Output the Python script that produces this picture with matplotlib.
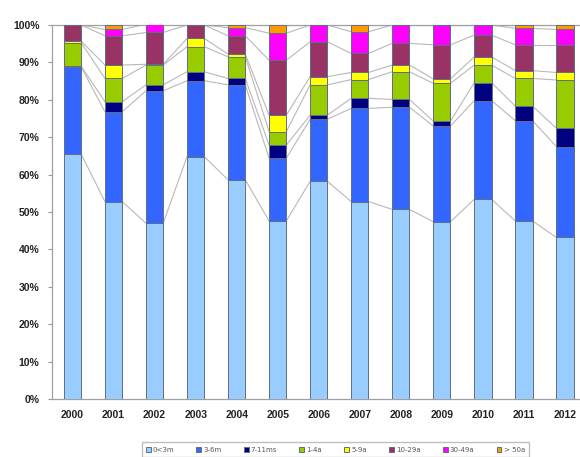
import matplotlib
matplotlib.use("Agg")
import matplotlib.pyplot as plt
import numpy as np

years = ["2000", "2001", "2002", "2003", "2004", "2005", "2006",
         "2007", "2008", "2009", "2010", "2011", "2012"]
series_names = ["0<3m", "3-6m", "7-11ms", "1-4a", "5-9a", "10-29a", "30-49a", "> 50a"]

s_0_3m   = [65.5, 52.8, 47.0, 64.8, 58.6, 47.6, 58.2, 52.8, 50.7, 47.4, 53.4, 47.6, 43.2]
s_3_6m   = [23.3, 24.0, 35.4, 20.3, 25.4, 16.8, 16.6, 24.9, 27.3, 25.6, 26.4, 26.8, 24.3]
s_7_11m  = [0.2, 2.7, 1.6, 2.4, 1.7, 3.5, 1.1, 2.7, 2.1, 1.3, 4.8, 3.9, 4.9]
s_1_4a   = [6.3, 6.2, 5.3, 6.7, 5.8, 3.6, 8.1, 5.0, 7.4, 10.1, 4.7, 7.4, 12.9]
s_5_9a   = [0.4, 3.6, 0.2, 2.2, 0.7, 4.4, 2.2, 1.9, 1.8, 1.2, 2.2, 2.1, 2.0]
s_10_29a = [4.3, 7.8, 8.5, 3.6, 4.9, 14.7, 9.3, 5.1, 5.8, 9.1, 5.8, 6.9, 7.4]
s_30_49a = [0.0, 1.7, 2.2, 0.0, 2.2, 7.2, 4.5, 5.8, 4.9, 5.3, 2.7, 4.4, 4.1]
s_50a    = [0.0, 1.2, 0.0, 0.0, 0.7, 2.2, 0.0, 1.8, 0.0, 0.0, 0.0, 0.9, 1.2]

data = [s_0_3m, s_3_6m, s_7_11m, s_1_4a, s_5_9a, s_10_29a, s_30_49a, s_50a]
colors = ["#99CCFF", "#3366FF", "#000080", "#99CC00", "#FFFF00",
          "#993366", "#FF00FF", "#FF9900"]

fig = plt.figure(figsize=(5.8, 4.57), dpi=100)
ax = fig.add_axes([52/580, 1-399/457, (585.5-52)/580, (399-25)/457])

x = np.arange(len(years))
width = 0.42
bottom = np.zeros(len(years))
handles = []
for vals, col, name in zip(data, colors, series_names):
    v = np.array(vals)
    h = ax.bar(x, v, width, bottom=bottom, color=col, edgecolor="#5f6f85",
               linewidth=0.7, label=name, zorder=3)
    handles.append(h)
    top = bottom + v
    # series lines connecting segment tops between bars
    for i in range(len(years) - 1):
        ax.plot([x[i] + width/2, x[i+1] - width/2], [top[i], top[i+1]],
                color="#b8b8b8", linewidth=0.8, zorder=2)
    bottom = top

ax.set_xlim(-0.5, len(years) - 0.5)
ax.set_ylim(0, 100)
ax.set_yticks(np.arange(0, 101, 10))
ax.set_yticklabels([f"{v}%" for v in range(0, 101, 10)])
ax.set_xticks(x)
ax.set_xticklabels(years)
for lab in ax.get_xticklabels() + ax.get_yticklabels():
    lab.set_fontfamily("Liberation Sans")
    lab.set_fontweight("bold")
    lab.set_fontsize(7.5)
    lab.set_color("#222222")

ax.tick_params(axis="y", length=3, width=0.8, color="#999999", pad=6)
ax.tick_params(axis="x", length=0, pad=8)
for s in ["left", "bottom", "top"]:
    ax.spines[s].set_color("#a0a0a0")
    ax.spines[s].set_linewidth(0.9)
ax.spines["right"].set_visible(False)

leg = fig.legend(handles=handles, labels=series_names, loc="upper center",
                 bbox_to_anchor=(0.578, 1-439/457), ncol=8, frameon=True,
                 fontsize=5, handlelength=0.7, handleheight=0.7,
                 handletextpad=0.3, columnspacing=3.2, borderpad=0.6,
                 fancybox=False, edgecolor="#b0b0b0")
for t in leg.get_texts():
    t.set_color("#555555")

fig.savefig("out.png", dpi=100)
